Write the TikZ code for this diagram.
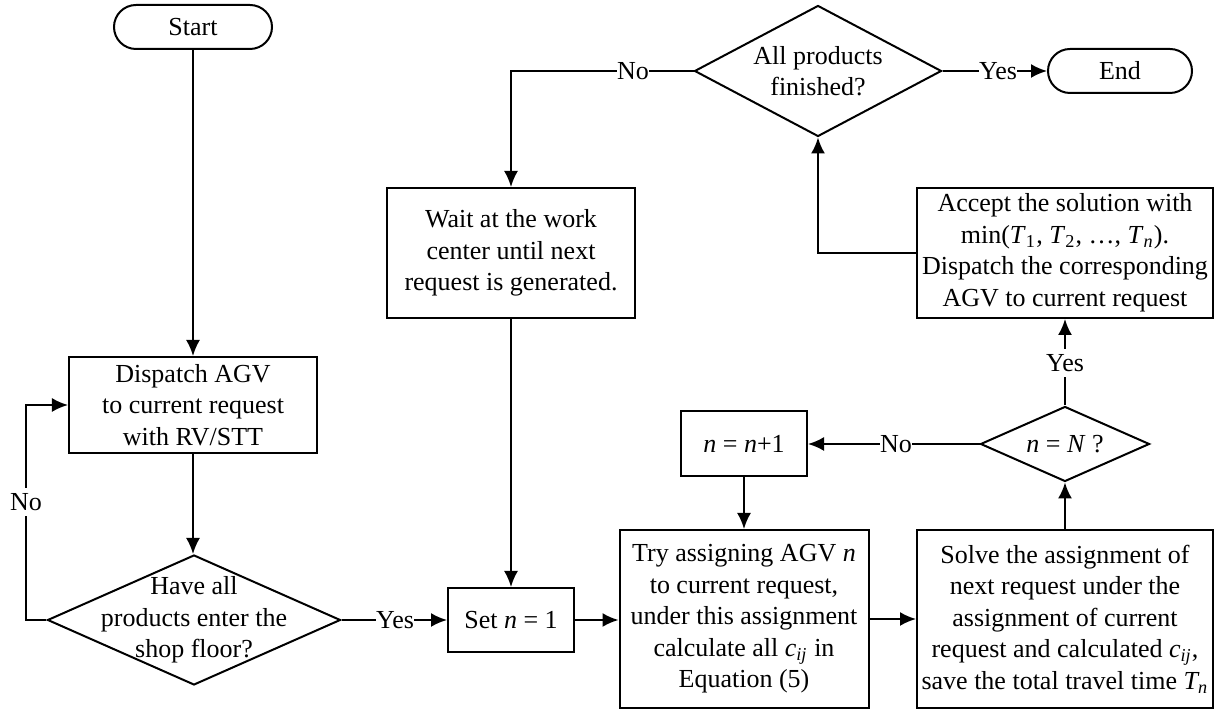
\documentclass[tikz,border=0pt]{standalone}
\usepackage{fontspec}
\setmainfont{Liberation Serif}
\usetikzlibrary{arrows.meta,shapes.geometric}
\begin{document}
\begin{tikzpicture}[x=0.4pt,y=-0.4pt,
  font=\fontsize{10.4}{12.6}\selectfont,
  line width=0.8pt,
  box/.style={draw, rectangle, align=center, inner sep=0pt},
  term/.style={draw, rectangle, rounded corners=8.8pt, minimum height=17.6pt, inner sep=0pt},
  dec/.style={draw, diamond, inner sep=0pt},
  dectext/.style={align=center, inner sep=0pt},
  arr/.style={-{Latex[length=6.4pt,width=5.6pt]}},
  lab/.style={fill=white, inner sep=0.2pt}]

\useasboundingbox (0,0) rectangle (1215,710);

% terminals
\node[term, minimum width=63.2pt] (start) at (193,27) {Start};
\node[term, minimum width=57.6pt] (end) at (1120,71) {End};

% process boxes
\node[box, minimum width=99.2pt, minimum height=38.4pt] (dispatch) at (193,405)
  {Dispatch AGV\\ to current request\\ with RV/STT};
\node[box, minimum width=99.2pt, minimum height=52pt] (wait) at (511,253)
  {Wait at the work\\ center until next\\ request is generated.};
\node[box, minimum width=118.4pt, minimum height=52pt] (accept) at (1065,253)
  {Accept the solution with\\ min(\textit{T}\textsubscript{1}, \textit{T}\textsubscript{2}, …, \textit{T}\textsubscript{\textit{n}}).\\ Dispatch the corresponding\\ AGV to current request};
\node[box, minimum width=50.4pt, minimum height=25.6pt] (setn) at (511,620)
  {Set \textit{n} = 1};
\node[box, minimum width=50.4pt, minimum height=26pt] (incr) at (744,444)
  {\textit{n} = \textit{n}+1};
\node[box, minimum width=99.6pt, minimum height=71.2pt] (try) at (744,619)
  {Try assigning AGV \textit{n}\\ to current request,\\ under this assignment\\ calculate all \textit{c\textsubscript{ij}} in\\ Equation (5)};
\node[box, minimum width=118.4pt, minimum height=71.2pt] (solve) at (1065,619)
  {Solve the assignment of\\ next request under the\\ assignment of current\\ request and calculated \textit{c\textsubscript{ij}},\\ save the total travel time \textit{T\textsubscript{n}}};

% decisions
\node[dec, minimum width=117.2pt, minimum height=52pt] (have) at (194,620) {};
\node[dectext] (havetext) at (have.center) {Have all\\ products enter the\\ shop floor?};
\node[dec, minimum width=98.8pt, minimum height=52.4pt] (fin) at (818,71) {};
\node[dectext] (fintext) at (fin.center) {All products\\ finished?};
\node[dec, minimum width=67.6pt, minimum height=30pt] (nN) at (1065,444) {};
\node[dectext] (nNtext) at (nN.center) {\textit{n} = \textit{N} ?};

% connectors
\coordinate (fb) at (26,405);
\draw[arr] (start) -- (dispatch);
\draw[arr] (dispatch.south) -- (dispatch.south |- have.north);
\draw[arr] (have.west) -| (fb) -- (dispatch.west);
\draw[arr] (have.east) -- (setn.west);
\draw[arr] (setn.east) -- (setn.east -| try.west);
\draw[arr] (try.east) -- (try.east -| solve.west);
\draw[arr] (solve.north) -- (nN.south);
\draw[arr] (nN.west) -- (incr.east);
\draw[arr] (incr.south) -- (incr.south |- try.north);
\draw[arr] (nN.north) -- (accept.south);
\draw[arr] (accept.west) -| (fin.south);
\draw[arr] (fin.east) -- (end.west);
\draw[arr] (fin.west) -| (wait.north);
\draw[arr] (wait.south) -- (setn.north);

% branch labels
\node[lab, inner ysep=2pt] (no1) at (26,502) {No};
\node[lab] (yes1) at (395,620) {Yes};
\node[lab] (no2) at (896,444) {No};
\node[lab, inner ysep=2pt] (yes2) at (1065,363) {Yes};
\node[lab] (yes3) at (998,71) {Yes};
\node[lab] (no3) at (633,71) {No};
\end{tikzpicture}
\end{document}
